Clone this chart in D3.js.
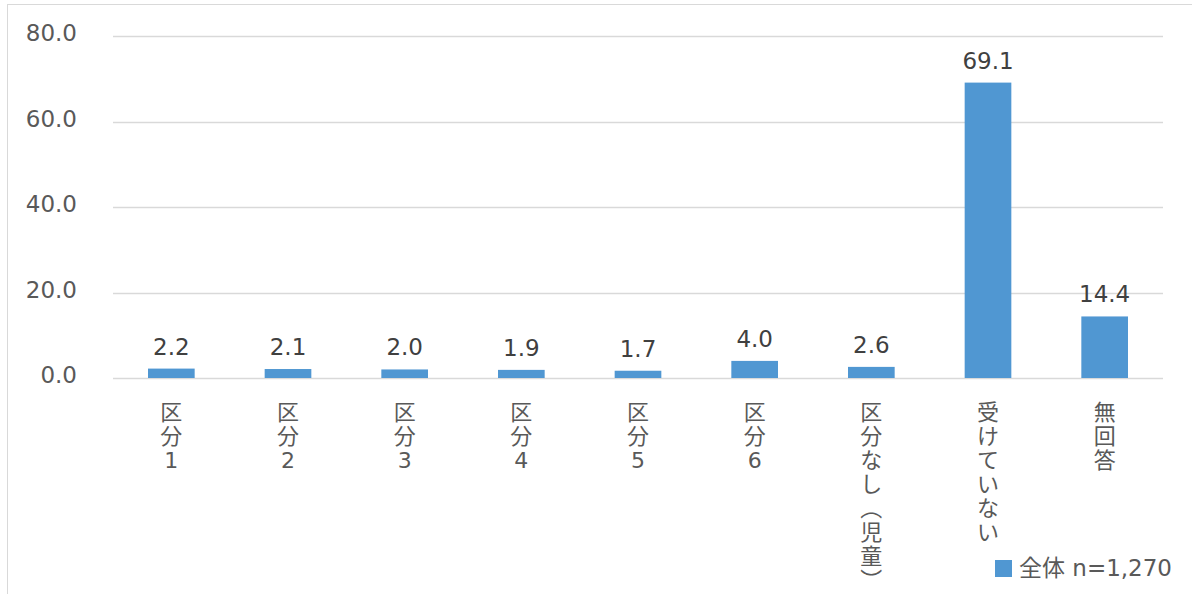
<!DOCTYPE html>
<html>
<head>
<meta charset="utf-8">
<script src="https://cdn.jsdelivr.net/npm/d3@7"></script>
<style>
  body { margin: 0; background: #fff; }
  svg { display: block; }
  text { font-family: Verdana, "DejaVu Sans", "Noto Sans CJK JP", sans-serif; }
</style>
</head>
<body>
<div id="chart"></div>
<script>
// category labels, drawn as stacked characters (vertical text)
var categories = ["区分1", "区分2", "区分3", "区分4", "区分5", "区分6", "区分なし（児童）", "受けていない", "無回答"];
var values = [2.2, 2.1, 2.0, 1.9, 1.7, 4.0, 2.6, 69.1, 14.4];
var yTicks = [0, 20, 40, 60, 80];
var seriesName = "全体 n=1,270";

var width = 1192, height = 594;
var margin = { top: 36, right: 29, bottom: 216, left: 113 };
var innerW = width - margin.left - margin.right,
    innerH = height - margin.top - margin.bottom;

var barColor = "#5097d2";

var svg = d3.select("#chart").append("svg")
    .attr("width", width)
    .attr("height", height);

// chart area border (runs off the right and bottom of the picture)
svg.append("rect")
    .attr("x", 7.5).attr("y", 4.5)
    .attr("width", width + 20).attr("height", height + 20)
    .attr("fill", "none")
    .attr("stroke", "#d9d9d9")
    .attr("stroke-width", 1);

var g = svg.append("g")
    .attr("transform", "translate(" + margin.left + "," + margin.top + ")");

var x = d3.scaleBand()
    .domain(categories)
    .range([0, innerW])
    .paddingInner(0.6)
    .paddingOuter(0.3);

var y = d3.scaleLinear()
    .domain([0, 80])
    .range([innerH, 0]);

// gridlines
g.append("g")
    .selectAll("line")
    .data(yTicks)
    .enter().append("line")
    .attr("x1", 0)
    .attr("x2", innerW)
    .attr("y1", function(d) { return Math.round(y(d)) + 0.5; })
    .attr("y2", function(d) { return Math.round(y(d)) + 0.5; })
    .attr("stroke", "#d9d9d9")
    .attr("stroke-width", 1.5);

// y tick labels
g.append("g")
    .selectAll("text")
    .data(yTicks)
    .enter().append("text")
    .attr("x", -36)
    .attr("y", function(d) { return y(d) + 5; })
    .attr("text-anchor", "end")
    .attr("font-size", 23)
    .attr("fill", "#595959")
    .text(function(d) { return d3.format(".1f")(d); });

// bars
g.append("g")
    .selectAll("rect")
    .data(values)
    .enter().append("rect")
    .attr("x", function(d, i) { return x(categories[i]); })
    .attr("y", function(d) { return y(d); })
    .attr("width", x.bandwidth())
    .attr("height", function(d) { return innerH - y(d); })
    .attr("fill", barColor);

// value labels
g.append("g")
    .selectAll("text")
    .data(values)
    .enter().append("text")
    .attr("x", function(d, i) { return x(categories[i]) + x.bandwidth() / 2; })
    .attr("y", function(d) { return y(d) - 14; })
    .attr("text-anchor", "middle")
    .attr("font-size", 23)
    .attr("fill", "#404040")
    .text(function(d) { return d3.format(".1f")(d); });

// vertical category labels, one character per line
var vertForms = { "（": "\uFE35", "）": "\uFE36" };
var catLabels = g.append("g")
    .selectAll("text")
    .data(categories)
    .enter().append("text")
    .attr("font-size", 22)
    .attr("fill", "#595959")
    .attr("text-anchor", "middle");

catLabels.each(function(d) {
    var cx = x(d) + x.bandwidth() / 2;
    var chars = Array.from(d);
    d3.select(this).selectAll("tspan")
        .data(chars)
        .enter().append("tspan")
        .attr("x", cx)
        .attr("y", function(c, j) { return innerH + 42 + j * 24; })
        .text(function(c) { return vertForms[c] || c; });
});

// legend
var legend = svg.append("g")
    .attr("transform", "translate(995,560)");

legend.append("rect")
    .attr("width", 17)
    .attr("height", 17)
    .attr("fill", barColor);

legend.append("text")
    .attr("x", 24)
    .attr("y", 16)
    .attr("font-size", 23)
    .attr("fill", "#595959")
    .text(seriesName);
</script>
</body>
</html>
